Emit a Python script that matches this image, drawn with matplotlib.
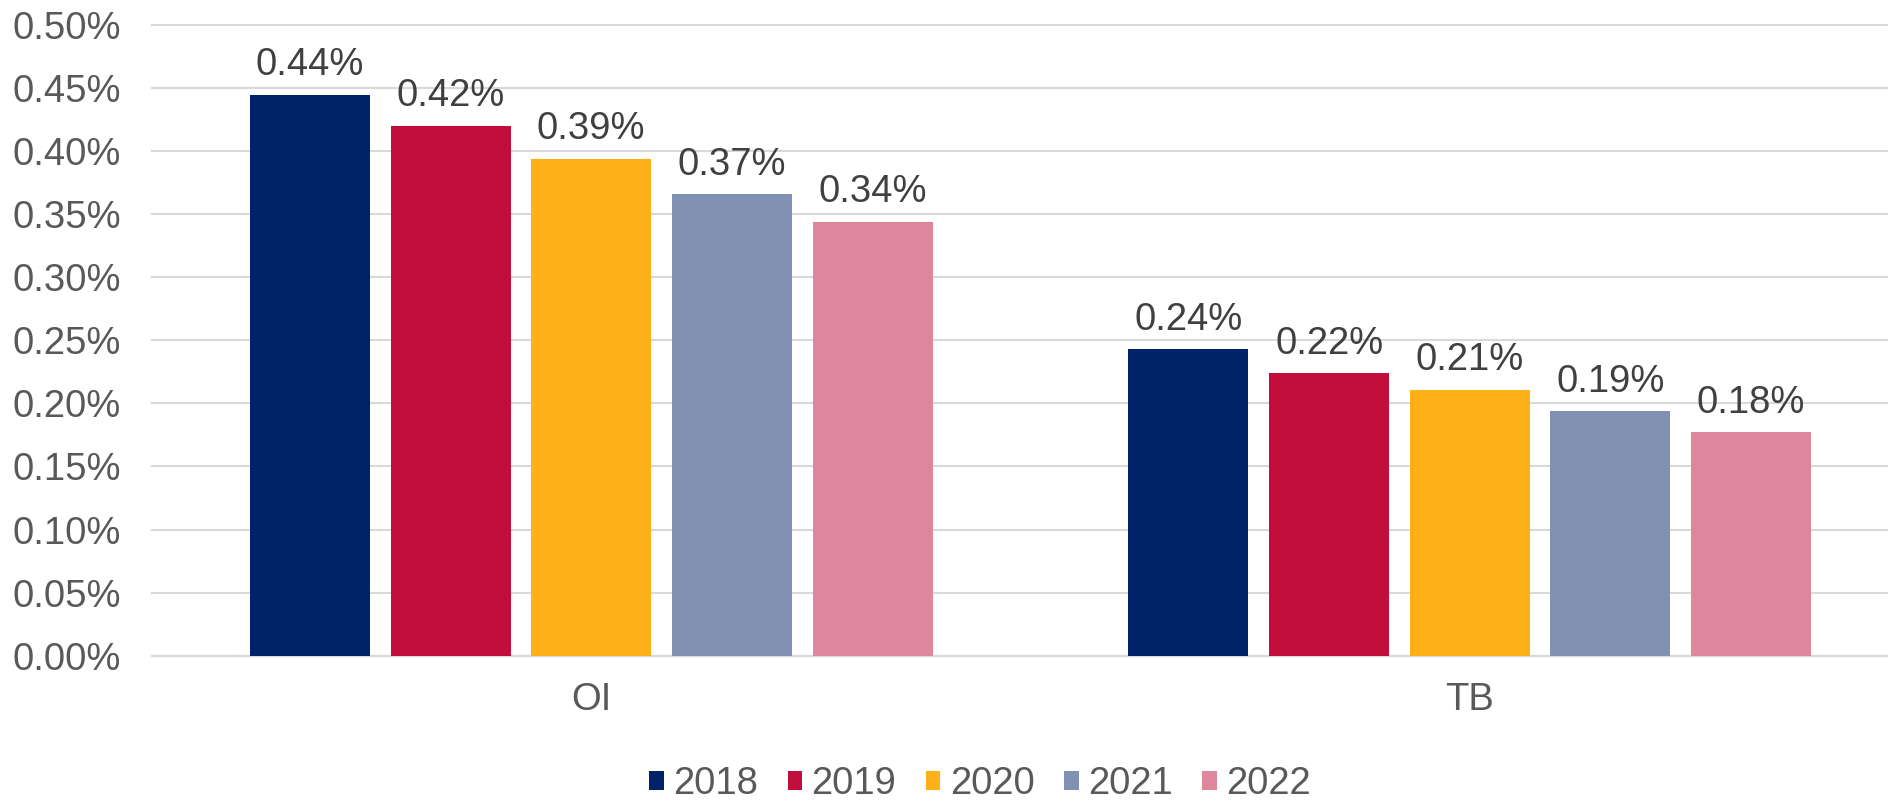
import matplotlib.pyplot as plt
import numpy as np

plt.rcParams['font.family'] = ['Liberation Sans', 'DejaVu Sans']

categories = ["OI", "TB"]
years = ["2018", "2019", "2020", "2021", "2022"]
# values in percent
oi = [0.4449, 0.420, 0.394, 0.366, 0.344]
tb = [0.243, 0.224, 0.211, 0.194, 0.177]
colors = ["#012169", "#C10E3D", "#FDB018", "#8091B3", "#DE879C"]

W, H = 1888, 801
fig = plt.figure(figsize=(W / 100, H / 100), dpi=100)
ax = fig.add_axes([152 / W, 1 - 655.7 / H, (W - 152) / W, (655.7 - 25) / H])

fs = 27.5
x = np.arange(len(categories))
pitch = 0.1601
width = 0.1366
for i, yr in enumerate(years):
    vals = [oi[i], tb[i]]
    bars = ax.bar(x + (i - 2) * pitch, vals, width, color=colors[i], label=yr, zorder=3)
    for b, v in zip(bars, vals):
        ax.annotate(f"{v:.2f}%", (b.get_x() + b.get_width() / 2, v),
                    xytext=(0, 14), textcoords="offset points",
                    ha="center", va="baseline", fontsize=fs, color="#404040")

ax.set_ylim(0, 0.5)
ax.set_xlim(-0.5, 1.5 - (1909 - 1888) / 878.7)
ax.set_yticks(np.arange(0, 0.501, 0.05))
ax.set_yticklabels([f"{t:.2f}%" for t in np.arange(0, 0.501, 0.05)])
ax.set_xticks(x)
ax.set_xticklabels(categories)
ax.grid(axis="y", color="#d9d9d9", linewidth=1.5, zorder=0)
for g in ax.get_ygridlines():
    g.set_clip_on(False)
for s in ["top", "right", "left"]:
    ax.spines[s].set_visible(False)
ax.spines["bottom"].set_color("#d9d9d9")
ax.spines["bottom"].set_linewidth(1.5)
ax.tick_params(axis="y", length=0, pad=22.5, labelsize=fs, labelcolor="#595959")
ax.tick_params(axis="x", length=0, pad=19, labelsize=fs, labelcolor="#595959")

leg = fig.legend(loc="center", bbox_to_anchor=(980 / W, 1 - 784 / H), ncol=5,
                 frameon=False, fontsize=fs, handlelength=0.38, handleheight=0.38,
                 handletextpad=0.24, columnspacing=0.78, borderpad=0)
for t in leg.get_texts():
    t.set_color("#595959")

fig.savefig("out.png", dpi=100)
